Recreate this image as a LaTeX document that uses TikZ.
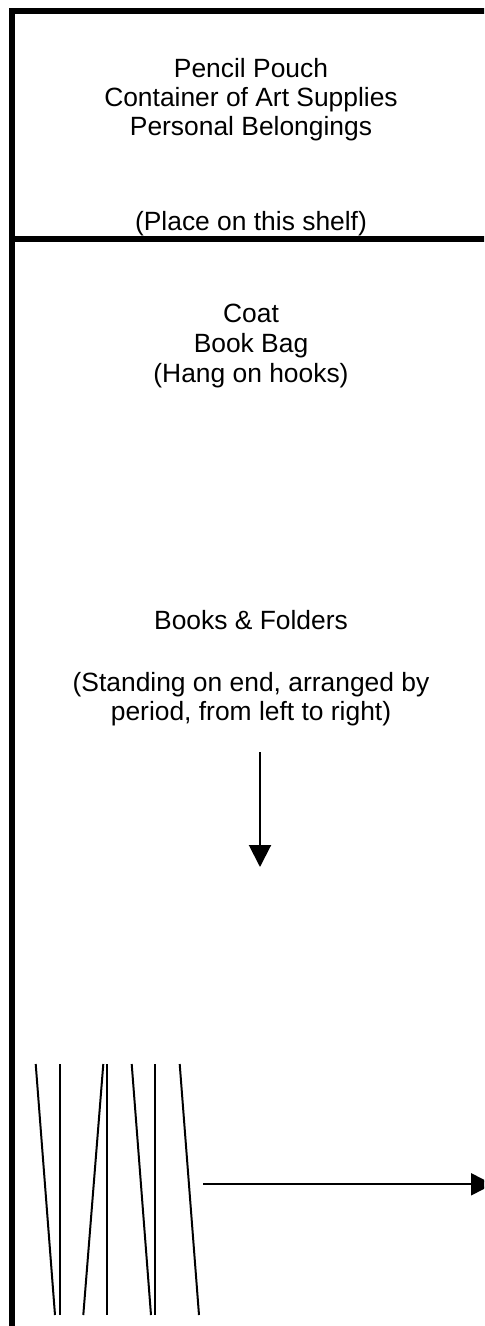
\documentclass[tikz,border=0pt]{standalone}
\usepackage{fontspec}
\setmainfont{Liberation Sans}
\usetikzlibrary{arrows.meta}
\tikzset{
  frame/.style={line width=2.8pt, line cap=rect},
  thin/.style={line width=1pt},
  lbl/.style={anchor=base, inner sep=0pt, font=\fontsize{13.2}{15}\selectfont},
  arr/.style={line width=1pt, -{Triangle[length=11pt,width=11pt]}}
}
\begin{document}
\begin{tikzpicture}[x=0.5pt,y=-0.5pt]
\useasboundingbox (0,0) rectangle (484,1326);
\begin{scope}
\clip (0,0) rectangle (484,1326);
% frame
\draw[frame] (12,1340) -- (12,10.8) -- (500,10.8);
\draw[frame] (12,239) -- (500,239);
% texts
\node[lbl] (t1) at (251,77.5) {Pencil Pouch};
\node[lbl] (t2) at (251,106.5) {Container of Art Supplies};
\node[lbl] (t3) at (251,135.5) {Personal Belongings};
\node[lbl] (t4) at (251,231) {(Place on this shelf)};
\node[lbl] (t5) at (251,322.5) {Coat};
\node[lbl] (t6) at (251,352.5) {Book Bag};
\node[lbl] (t7) at (251,382) {(Hang on hooks)};
\node[lbl] (t8) at (251,629) {Books \& Folders};
\node[lbl] (t9) at (251,691) {(Standing on end, arranged by};
\node[lbl] (t10) at (251,720) {period, from left to right)};
% arrows
\coordinate (d1) at (260,752);
\coordinate (d2) at (260,867);
\draw[arr] (d1) -- (d2);
\coordinate (r1) at (203,1184.3);
\coordinate (r2) at (493,1184.3);
\draw[arr] (r1) -- (r2);
% books
\draw[thin] (35.7,1064) -- (55,1315);
\draw[thin] (59.7,1064) -- (59.7,1315);
\draw[thin] (103.3,1064) -- (83.3,1315);
\draw[thin] (107.3,1064) -- (107.3,1315);
\draw[thin] (131.7,1064) -- (151,1315);
\draw[thin] (155.3,1064) -- (155.3,1315);
\draw[thin] (179.7,1064) -- (199,1315);
\end{scope}
\end{tikzpicture}
\end{document}
